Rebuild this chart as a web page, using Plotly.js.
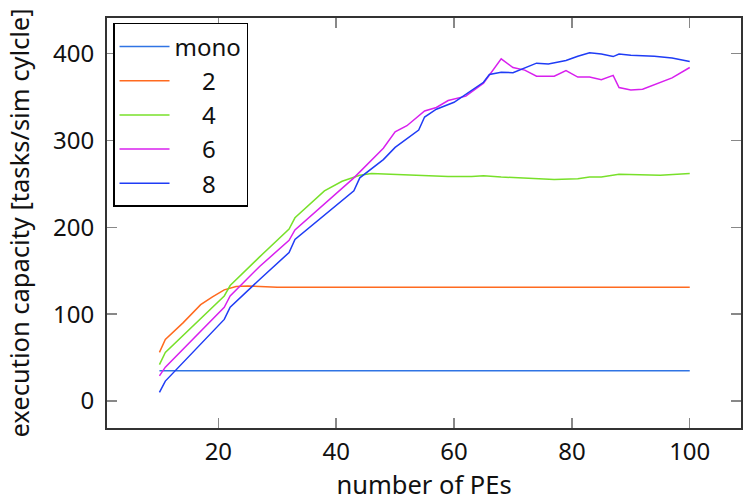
<!DOCTYPE html>
<html>
<head>
<meta charset="utf-8">
<script src="https://cdn.plot.ly/plotly-3.0.1.min.js"></script>
<style>html,body{margin:0;padding:0;background:#fff}#chart{width:743px;height:502px}</style>
</head>
<body>
<div id="chart"></div>
<script>
// series names
const seriesNames = ["mono", "2", "4", "6", "8"];

// mono
const xMono = [10, 100];
const yMono = [35, 35];

// 2
const x2 = [10, 11, 14, 17, 19, 21, 23, 25, 30, 100];
const y2 = [56, 71, 90, 111, 120, 128, 132, 132.5, 131, 131];

// 4
const x4 = [10, 11, 21, 22, 27, 32, 33, 36, 38, 41, 44, 46, 50, 55, 59, 63, 65, 68, 72, 77, 81, 83, 85, 88, 95, 100];
const y4 = [42, 56, 121, 133, 166, 198, 211, 230, 242, 253, 260, 262, 261, 259.5, 258.5, 258.5, 259.5, 258, 257, 255, 256, 258, 258, 261, 260, 262];

// 6
const x6 = [10, 11, 21, 22, 27, 32, 33, 43, 48, 50, 52, 55, 57, 59, 62, 65, 68, 70, 72, 74, 77, 79, 81, 83, 85, 87, 88, 90, 92, 94, 97, 100];
const y6 = [29, 39, 108, 121, 155, 185, 197, 257, 291, 310, 317, 334, 338, 346, 351, 366, 394, 384, 381, 374, 374, 380.5, 373, 373, 370, 375, 361, 358, 359, 364, 372, 384];

// 8
const x8 = [10, 11, 21, 22, 27, 32, 33, 43, 44, 48, 50, 54, 55, 57, 60, 62, 65, 66, 68, 70, 74, 76, 79, 81, 83, 85, 87, 88, 90, 94, 97, 100];
const y8 = [10, 23, 94, 108, 140, 171, 186, 242, 257, 278, 292, 312, 327, 336, 344, 353, 367, 376, 378.5, 378, 389, 388, 392, 397, 401, 399.6, 396.6, 399.6, 398, 397, 395, 391];

const colors = ["#3074e4", "#ff6a1f", "#78e02a", "#d820ee", "#1f3cf5"];
const xs = [xMono, x2, x4, x6, x8];
const ys = [yMono, y2, y4, y6, y8];
// legend labels roughly centred like the original
const pad = "\u2007\u2007";
const labels = seriesNames.map(n => n.length === 1 ? pad + n : n);

const traces = xs.map((x, i) => ({
  x: x, y: ys[i], type: "scatter", mode: "lines", name: labels[i],
  line: {color: colors[i], width: 1.5}
}));

const fam = "Noto Sans, Open Sans, sans-serif";
const tickFont = {family: fam, size: 24, color: "#111"};
const titleFont = {family: fam, size: 25.5, color: "#111"};
const legendFont = {family: fam, size: 24, color: "#111"};
const axisCommon = {
  showgrid: false, zeroline: false, showline: true, linecolor: "#333", linewidth: 2,
  mirror: "ticks", ticks: "inside", ticklen: 10, tickwidth: 1.5, tickcolor: "#888",
  tickfont: tickFont
};

const layout = {
  width: 743, height: 502,
  margin: {l: 107, r: 2, t: 18, b: 74},
  paper_bgcolor: "#fff", plot_bgcolor: "#fff",
  font: tickFont,
  showlegend: true,
  legend: {
    x: 0.0095, y: 0.988, xanchor: "left", yanchor: "top",
    bgcolor: "#fff", bordercolor: "#000", borderwidth: 1.5,
    font: legendFont, itemwidth: 50, entrywidth: 81, entrywidthmode: "pixels"
  },
  xaxis: Object.assign({}, axisCommon, {
    range: [1.1, 108.7], tick0: 0, dtick: 20, ticklabelstandoff: 1,
    title: {text: "number of PEs", font: titleFont, standoff: 6}
  }),
  yaxis: Object.assign({}, axisCommon, {
    range: [-31, 441], tick0: 0, dtick: 100, ticklabelstandoff: 6,
    title: {text: "execution capacity [tasks/sim cylcle]", font: titleFont, standoff: 16}
  })
};

Plotly.newPlot("chart", traces, layout, {staticPlot: true});
</script>
</body>
</html>
